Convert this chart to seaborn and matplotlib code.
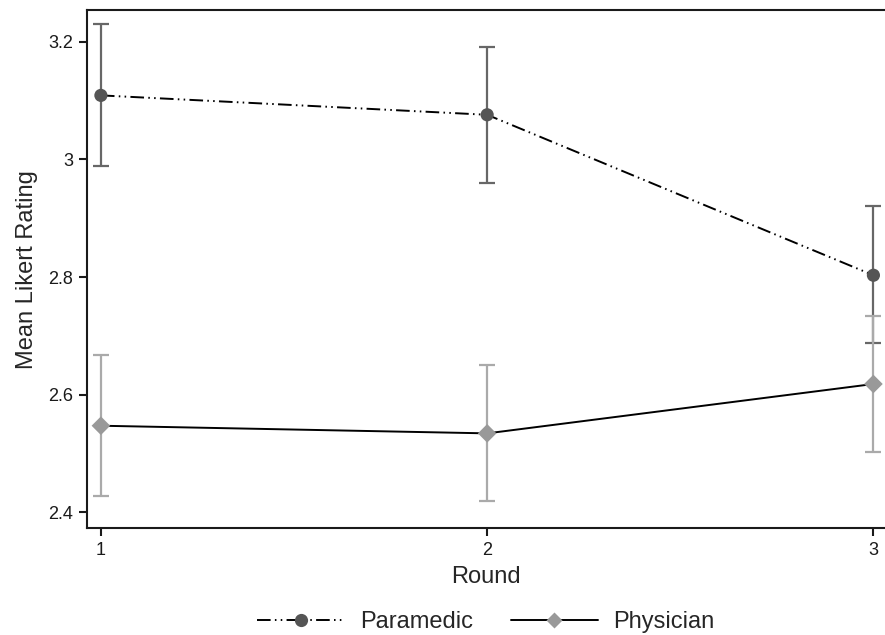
import matplotlib
matplotlib.use("Agg")
import matplotlib.pyplot as plt
from matplotlib.lines import Line2D
import seaborn as sns
import pandas as pd

rounds = [1, 2, 3]
paramedic_mean = [3.109, 3.076, 2.803]
paramedic_lo = [2.989, 2.960, 2.688]
paramedic_hi = [3.230, 3.192, 2.920]
physician_mean = [2.547, 2.534, 2.618]
physician_lo = [2.427, 2.419, 2.503]
physician_hi = [2.667, 2.650, 2.734]
yticks = [2.4, 2.6, 2.8, 3.0, 3.2]
yticklabels = ["2.4", "2.6", "2.8", "3", "3.2"]

sns.set_theme(style="white")
plt.rcParams['font.family'] = ['Liberation Sans', 'DejaVu Sans']

df = pd.DataFrame({
    "Round": rounds * 2,
    "Mean": paramedic_mean + physician_mean,
    "Group": ["Paramedic"] * 3 + ["Physician"] * 3,
})

fig = plt.figure(figsize=(8.85, 6.35), dpi=100)
ax = fig.add_axes([0.0983, 0.1685, 0.9017, 0.8155])

para_dash = (7, 2.2, 0.8, 2.2, 0.8, 2.2)
sns.lineplot(data=df, x="Round", y="Mean", hue="Group", style="Group",
             palette={"Paramedic": "black", "Physician": "black"},
             dashes={"Paramedic": para_dash, "Physician": ""},
             linewidth=1.4, legend=False, ax=ax, zorder=2)

ax.errorbar(rounds, paramedic_mean,
            yerr=[[m - l for m, l in zip(paramedic_mean, paramedic_lo)],
                  [h - m for m, h in zip(paramedic_mean, paramedic_hi)]],
            fmt="none", ecolor="#676767", elinewidth=1.6, capsize=5.5, capthick=1.6, zorder=3)
ax.errorbar(rounds, physician_mean,
            yerr=[[m - l for m, l in zip(physician_mean, physician_lo)],
                  [h - m for m, h in zip(physician_mean, physician_hi)]],
            fmt="none", ecolor="#aaaaaa", elinewidth=1.6, capsize=5.5, capthick=1.6, zorder=3)

sns.scatterplot(data=df, x="Round", y="Mean", hue="Group", style="Group",
                palette={"Paramedic": "#555555", "Physician": "#999999"},
                markers={"Paramedic": "o", "Physician": "D"},
                s=90, edgecolor="none", legend=False, ax=ax, zorder=4)

ax.set_xlim(0.964, 3.03)
ax.set_ylim(2.373, 3.254)
ax.set_xticks(rounds)
ax.set_xticklabels([str(r) for r in rounds])
ax.set_yticks(yticks)
ax.set_yticklabels(yticklabels)
ax.tick_params(axis="both", direction="out", length=6, width=1.5, colors="#1a1a1a",
               labelsize=13, bottom=True, left=True, pad=4)
for s in ["left", "bottom", "top"]:
    ax.spines[s].set_color("#1a1a1a")
    ax.spines[s].set_linewidth(1.5)
ax.spines["right"].set_visible(False)

ax.set_xlabel("Round", fontsize=17, labelpad=5)
ax.set_ylabel("Mean Likert Rating", fontsize=17, labelpad=7)

handles = [
    Line2D([0], [0], color="black", linewidth=1.4, dashes=para_dash,
           marker="o", markersize=9.5, markerfacecolor="#555555", markeredgecolor="none"),
    Line2D([0], [0], color="black", linewidth=1.4,
           marker="D", markersize=8.5, markerfacecolor="#999999", markeredgecolor="none"),
]
fig.legend(handles, ["Paramedic", "Physician"], loc="center", bbox_to_anchor=(0.549, 0.02),
           ncol=2, frameon=False, fontsize=17, handlelength=3.7, columnspacing=1.6,
           handletextpad=0.65)

fig.savefig("out.png", dpi=100)
